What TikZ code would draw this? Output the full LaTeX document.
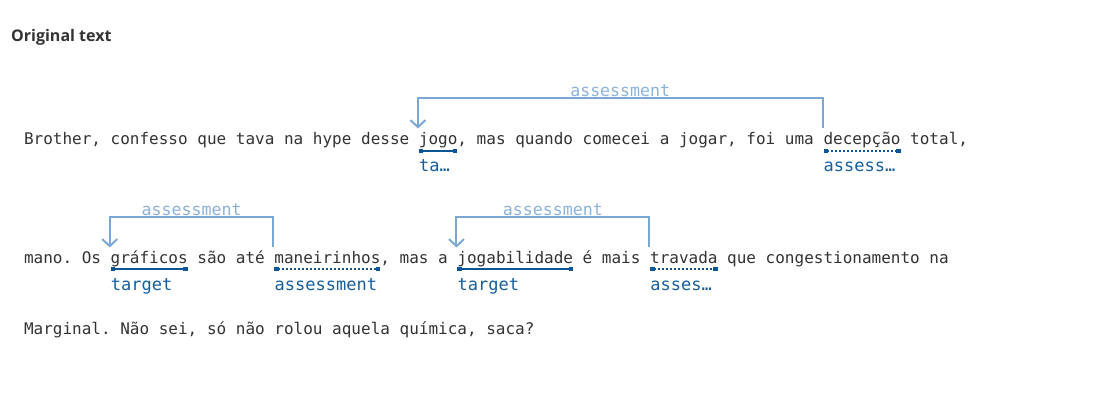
\documentclass[tikz,border=0pt]{standalone}
\usepackage{fontspec}
\usetikzlibrary{positioning,arrows.meta}
\newfontfamily\codefont{DejaVu Sans Mono}
\newfontfamily\headfont{Open Sans}
\definecolor{textgray}{RGB}{51,51,51}
\definecolor{arcblue}{RGB}{122,168,210}
\definecolor{arclabel}{RGB}{140,178,218}
\definecolor{markblue}{RGB}{11,84,150}
\definecolor{lblblue}{RGB}{22,94,158}
\frenchspacing
\tikzset{
	txt/.style={font=\codefont\fontsize{16}{19}\selectfont,text=textgray,inner sep=0pt,outer sep=0pt},
	lbl/.style={font=\codefont\fontsize{17}{20}\selectfont,text=lblblue,inner sep=0pt,anchor=base west},
	arclbl/.style={font=\codefont\fontsize{16.6}{20}\selectfont,text=arclabel,inner sep=0pt,midway,anchor=base,yshift=1.5pt},
	solidmark/.style={draw=markblue,line width=2.5pt,{Square[length=4.5pt,width=4.5pt]}-{Square[length=4.5pt,width=4.5pt]}},
	dotmark/.style={solidmark,dash pattern=on 2pt off 2pt},
	rel/.style={draw=arcblue,line width=2pt,miter limit=4,-{Straight Barb[length=7pt,width=15pt]}}
}
\begin{document}
\begin{tikzpicture}[x=1pt,y=-1pt]
	\useasboundingbox[fill=white] (0,0) rectangle (1101,411);
	\node[font=\headfont\bfseries\fontsize{16}{19}\selectfont,text=textgray,inner sep=0pt,anchor=base west] (title) at (11,42) {Original text};
	%line 1
	\node[txt,anchor=base west] (l1a) at (24,145) {Brother, confesso que tava na hype desse\ \null};
	\node[txt,base right=0pt of l1a] (jogo) {jogo};
	\node[txt,base right=0pt of jogo] (l1b) {, mas quando comecei a jogar, foi uma\ \null};
	\node[txt,base right=0pt of l1b] (decepcao) {decepção};
	\node[txt,base right=0pt of decepcao] (l1c) {\ total,};
	%line 2
	\node[txt,anchor=base west] (l2a) at (24,264) {mano. Os\ \null};
	\node[txt,base right=0pt of l2a] (graficos) {gráficos};
	\node[txt,base right=0pt of graficos] (l2b) {\ são até\ \null};
	\node[txt,base right=0pt of l2b] (maneirinhos) {maneirinhos};
	\node[txt,base right=0pt of maneirinhos] (l2c) {, mas a\ \null};
	\node[txt,base right=0pt of l2c] (jogabilidade) {jogabilidade};
	\node[txt,base right=0pt of jogabilidade] (l2d) {\ é mais\ \null};
	\node[txt,base right=0pt of l2d] (travada) {travada};
	\node[txt,base right=0pt of travada] (l2e) {\ que congestionamento na};
	%line 3
	\node[txt,anchor=base west] (l3a) at (24,335) {Marginal. Não sei, só não rolou aquela química, saca?};
	%spans
	\draw[solidmark] ([yshift=-6pt]jogo.base west)--([yshift=-6pt]jogo.base east);
	\draw[dotmark] ([yshift=-6pt]decepcao.base west)--([yshift=-6pt]decepcao.base east);
	\draw[solidmark] ([yshift=-5pt]graficos.base west)--([yshift=-5pt]graficos.base east);
	\draw[dotmark] ([yshift=-5pt]maneirinhos.base west)--([yshift=-5pt]maneirinhos.base east);
	\draw[solidmark] ([yshift=-5pt]jogabilidade.base west)--([yshift=-5pt]jogabilidade.base east);
	\draw[dotmark] ([yshift=-5pt]travada.base west)--([yshift=-5pt]travada.base east);
	\node[lbl] (jogoL) at ([yshift=-27pt]jogo.base west) {ta…};
	\node[lbl] (decepcaoL) at ([yshift=-27pt]decepcao.base west) {assess…};
	\node[lbl] (graficosL) at ([yshift=-27pt]graficos.base west) {target};
	\node[lbl] (maneirinhosL) at ([yshift=-27pt]maneirinhos.base west) {assessment};
	\node[lbl] (jogabilidadeL) at ([yshift=-27pt]jogabilidade.base west) {target};
	\node[lbl] (travadaL) at ([yshift=-27pt]travada.base west) {asses…};
	%relations
	\draw[rel] ([xshift=-1pt,yshift=16.5pt]decepcao.base west)--([xshift=-1pt,yshift=47pt]decepcao.base west)--node[arclbl]{assessment} ([xshift=-1pt,yshift=47pt]jogo.base west)--([xshift=-1pt,yshift=16.5pt]jogo.base west);
	\draw[rel] ([xshift=-1pt,yshift=16.5pt]maneirinhos.base west)--([xshift=-1pt,yshift=46.5pt]maneirinhos.base west)--node[arclbl]{assessment} ([xshift=-1pt,yshift=46.5pt]graficos.base west)--([xshift=-1pt,yshift=16.5pt]graficos.base west);
	\draw[rel] ([xshift=-1pt,yshift=16.5pt]travada.base west)--([xshift=-1pt,yshift=46.5pt]travada.base west)--node[arclbl]{assessment} ([xshift=-1pt,yshift=46.5pt]jogabilidade.base west)--([xshift=-1pt,yshift=16.5pt]jogabilidade.base west);
\end{tikzpicture}
\end{document}
